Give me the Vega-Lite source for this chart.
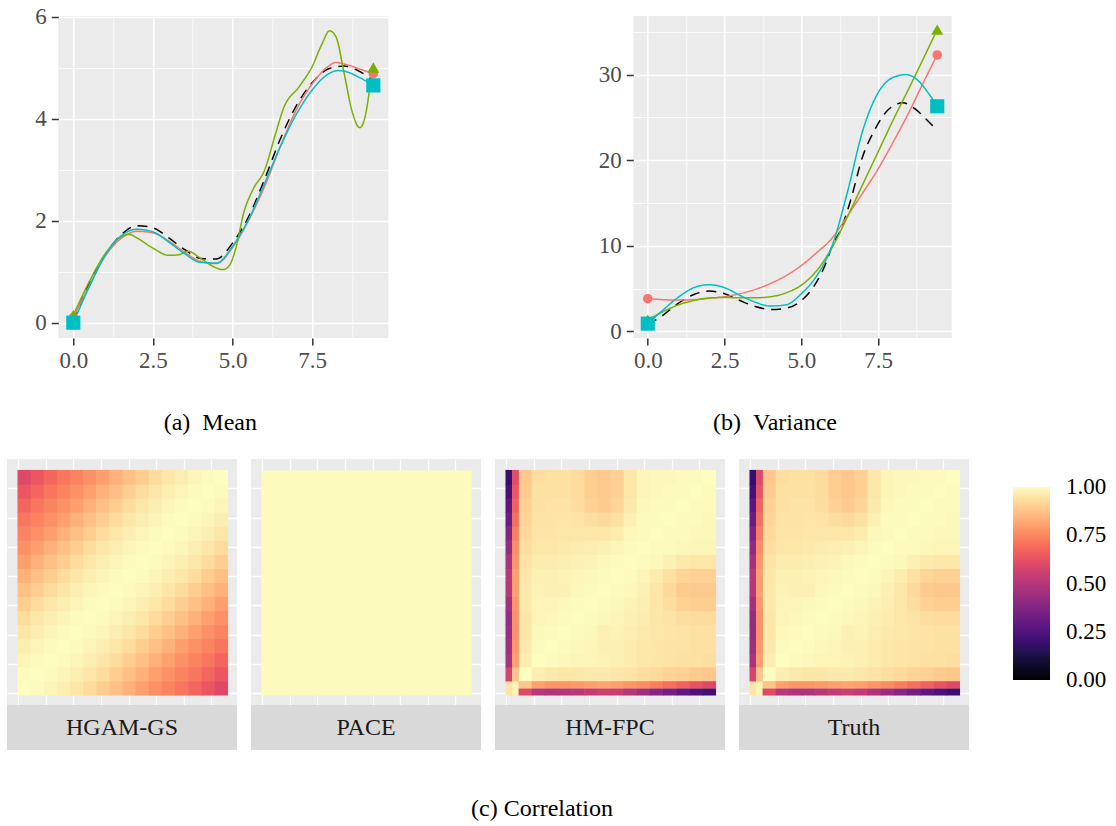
{
"$schema":"https://vega.github.io/schema/vega-lite/v6.json",
"background":"white",
"padding":{"left":7,"top":5,"right":0,"bottom":0},
"config":{"font":"Liberation Serif","view":{"stroke":null},
"mark":{"font":"Liberation Serif"},"text":{"font":"Liberation Serif"},
"axis":{"labelFont":"Liberation Serif","labelFontSize":23,"labelColor":"#4D4D4D","tickColor":"#333333","tickSize":7,"tickWidth":1.5,"domain":false,"gridColor":"#FFFFFF","titleFontSize":1},
"title":{"font":"Liberation Serif","fontSize":24,"fontWeight":"normal","color":"#000000"}},
"datasets":{
"mean":[
{"m":"Truth","x":0,"y":0.02},{"m":"Truth","x":0.5,"y":0.78},{"m":"Truth","x":1,"y":1.33},{"m":"Truth","x":1.5,"y":1.72},{"m":"Truth","x":2,"y":1.9},{"m":"Truth","x":2.5,"y":1.86},{"m":"Truth","x":3,"y":1.66},{"m":"Truth","x":3.5,"y":1.43},{"m":"Truth","x":4,"y":1.26},{"m":"Truth","x":4.5,"y":1.25},{"m":"Truth","x":5,"y":1.56},{"m":"Truth","x":5.5,"y":2.07},{"m":"Truth","x":6,"y":2.8},{"m":"Truth","x":6.5,"y":3.6},{"m":"Truth","x":7,"y":4.25},{"m":"Truth","x":7.5,"y":4.7},{"m":"Truth","x":8,"y":4.97},{"m":"Truth","x":8.5,"y":5.03},{"m":"Truth","x":9,"y":4.92},{"m":"Truth","x":9.42,"y":4.74},
{"m":"HGAM-GS","x":0,"y":0.1},{"m":"HGAM-GS","x":0.5,"y":0.72},{"m":"HGAM-GS","x":1,"y":1.3},{"m":"HGAM-GS","x":1.5,"y":1.65},{"m":"HGAM-GS","x":2,"y":1.79},{"m":"HGAM-GS","x":2.5,"y":1.76},{"m":"HGAM-GS","x":3,"y":1.6},{"m":"HGAM-GS","x":3.5,"y":1.38},{"m":"HGAM-GS","x":4,"y":1.2},{"m":"HGAM-GS","x":4.5,"y":1.16},{"m":"HGAM-GS","x":5,"y":1.47},{"m":"HGAM-GS","x":5.5,"y":2.0},{"m":"HGAM-GS","x":6,"y":2.66},{"m":"HGAM-GS","x":6.5,"y":3.45},{"m":"HGAM-GS","x":7,"y":4.17},{"m":"HGAM-GS","x":7.5,"y":4.68},{"m":"HGAM-GS","x":8,"y":5.02},{"m":"HGAM-GS","x":8.25,"y":5.1},{"m":"HGAM-GS","x":8.5,"y":5.07},{"m":"HGAM-GS","x":9,"y":4.97},{"m":"HGAM-GS","x":9.42,"y":4.88},
{"m":"PACE","x":0,"y":0.15},{"m":"PACE","x":0.5,"y":0.8},{"m":"PACE","x":1,"y":1.35},{"m":"PACE","x":1.5,"y":1.68},{"m":"PACE","x":1.75,"y":1.73},{"m":"PACE","x":2,"y":1.66},{"m":"PACE","x":2.5,"y":1.46},{"m":"PACE","x":3,"y":1.32},{"m":"PACE","x":3.3,"y":1.33},{"m":"PACE","x":3.6,"y":1.4},{"m":"PACE","x":4,"y":1.26},{"m":"PACE","x":4.4,"y":1.1},{"m":"PACE","x":4.7,"y":1.04},{"m":"PACE","x":4.9,"y":1.12},{"m":"PACE","x":5.1,"y":1.45},{"m":"PACE","x":5.35,"y":2.15},{"m":"PACE","x":5.65,"y":2.62},{"m":"PACE","x":6,"y":2.98},{"m":"PACE","x":6.35,"y":3.7},{"m":"PACE","x":6.6,"y":4.2},{"m":"PACE","x":7.1,"y":4.63},{"m":"PACE","x":7.5,"y":5.02},{"m":"PACE","x":7.8,"y":5.45},{"m":"PACE","x":8.05,"y":5.72},{"m":"PACE","x":8.25,"y":5.6},{"m":"PACE","x":8.5,"y":4.9},{"m":"PACE","x":8.75,"y":4.15},{"m":"PACE","x":9,"y":3.82},{"m":"PACE","x":9.2,"y":4.15},{"m":"PACE","x":9.3,"y":4.55},{"m":"PACE","x":9.42,"y":5.0},
{"m":"HM-FPC","x":0,"y":0},{"m":"HM-FPC","x":0.5,"y":0.7},{"m":"HM-FPC","x":1,"y":1.32},{"m":"HM-FPC","x":1.5,"y":1.7},{"m":"HM-FPC","x":2,"y":1.83},{"m":"HM-FPC","x":2.5,"y":1.78},{"m":"HM-FPC","x":3,"y":1.58},{"m":"HM-FPC","x":3.5,"y":1.35},{"m":"HM-FPC","x":4,"y":1.18},{"m":"HM-FPC","x":4.5,"y":1.17},{"m":"HM-FPC","x":5,"y":1.5},{"m":"HM-FPC","x":5.5,"y":2.02},{"m":"HM-FPC","x":6,"y":2.72},{"m":"HM-FPC","x":6.5,"y":3.45},{"m":"HM-FPC","x":7,"y":4.08},{"m":"HM-FPC","x":7.5,"y":4.56},{"m":"HM-FPC","x":8,"y":4.87},{"m":"HM-FPC","x":8.3,"y":4.94},{"m":"HM-FPC","x":8.5,"y":4.93},{"m":"HM-FPC","x":9,"y":4.8},{"m":"HM-FPC","x":9.42,"y":4.65}
],
"var":[
{"m":"Truth","x":0,"y":0.8},{"m":"Truth","x":0.5,"y":1.9},{"m":"Truth","x":1,"y":3.3},{"m":"Truth","x":1.5,"y":4.3},{"m":"Truth","x":2,"y":4.7},{"m":"Truth","x":2.5,"y":4.4},{"m":"Truth","x":3,"y":3.6},{"m":"Truth","x":3.5,"y":2.9},{"m":"Truth","x":4,"y":2.55},{"m":"Truth","x":4.5,"y":2.7},{"m":"Truth","x":5,"y":3.6},{"m":"Truth","x":5.5,"y":5.8},{"m":"Truth","x":5.8,"y":8.0},{"m":"Truth","x":6,"y":10.0},{"m":"Truth","x":6.27,"y":11.8},{"m":"Truth","x":6.6,"y":15.3},{"m":"Truth","x":7,"y":20.5},{"m":"Truth","x":7.35,"y":23.3},{"m":"Truth","x":7.8,"y":25.8},{"m":"Truth","x":8.3,"y":26.7},{"m":"Truth","x":8.7,"y":26.0},{"m":"Truth","x":9,"y":25.0},{"m":"Truth","x":9.42,"y":23.5},
{"m":"HGAM-GS","x":0,"y":3.82},{"m":"HGAM-GS","x":0.5,"y":3.7},{"m":"HGAM-GS","x":1,"y":3.65},{"m":"HGAM-GS","x":1.5,"y":3.7},{"m":"HGAM-GS","x":2,"y":3.85},{"m":"HGAM-GS","x":2.5,"y":4.05},{"m":"HGAM-GS","x":3,"y":4.4},{"m":"HGAM-GS","x":3.5,"y":4.9},{"m":"HGAM-GS","x":4,"y":5.6},{"m":"HGAM-GS","x":4.5,"y":6.5},{"m":"HGAM-GS","x":5,"y":7.7},{"m":"HGAM-GS","x":5.5,"y":9.2},{"m":"HGAM-GS","x":6,"y":10.9},{"m":"HGAM-GS","x":6.5,"y":13.5},{"m":"HGAM-GS","x":7,"y":16.2},{"m":"HGAM-GS","x":7.5,"y":19.0},{"m":"HGAM-GS","x":8,"y":22.2},{"m":"HGAM-GS","x":8.5,"y":25.6},{"m":"HGAM-GS","x":9,"y":29.3},{"m":"HGAM-GS","x":9.42,"y":32.3},
{"m":"PACE","x":0,"y":1.36},{"m":"PACE","x":0.5,"y":2.3},{"m":"PACE","x":1,"y":3.1},{"m":"PACE","x":1.5,"y":3.6},{"m":"PACE","x":2,"y":3.9},{"m":"PACE","x":2.5,"y":3.95},{"m":"PACE","x":3,"y":3.92},{"m":"PACE","x":3.5,"y":3.92},{"m":"PACE","x":4,"y":4.05},{"m":"PACE","x":4.5,"y":4.5},{"m":"PACE","x":5,"y":5.4},{"m":"PACE","x":5.5,"y":7.1},{"m":"PACE","x":6,"y":9.8},{"m":"PACE","x":6.5,"y":13.4},{"m":"PACE","x":7,"y":17.2},{"m":"PACE","x":7.5,"y":21.0},{"m":"PACE","x":8,"y":24.8},{"m":"PACE","x":8.5,"y":28.4},{"m":"PACE","x":9,"y":32.1},{"m":"PACE","x":9.42,"y":35.26},
{"m":"HM-FPC","x":0,"y":0.9},{"m":"HM-FPC","x":0.5,"y":2.5},{"m":"HM-FPC","x":1,"y":4.0},{"m":"HM-FPC","x":1.5,"y":5.1},{"m":"HM-FPC","x":2,"y":5.45},{"m":"HM-FPC","x":2.5,"y":5.1},{"m":"HM-FPC","x":3,"y":4.2},{"m":"HM-FPC","x":3.5,"y":3.4},{"m":"HM-FPC","x":4,"y":2.95},{"m":"HM-FPC","x":4.5,"y":3.1},{"m":"HM-FPC","x":5,"y":4.4},{"m":"HM-FPC","x":5.5,"y":6.5},{"m":"HM-FPC","x":6,"y":10.0},{"m":"HM-FPC","x":6.5,"y":16.3},{"m":"HM-FPC","x":7,"y":23.5},{"m":"HM-FPC","x":7.5,"y":27.9},{"m":"HM-FPC","x":8,"y":29.7},{"m":"HM-FPC","x":8.4,"y":30.0},{"m":"HM-FPC","x":8.8,"y":29.3},{"m":"HM-FPC","x":9.1,"y":28.0},{"m":"HM-FPC","x":9.42,"y":26.3}
],
"pace":[{"s":0,"t":0,"v":0.995}],
"hg":[
{"s":0,"t":0,"v":1},{"s":1,"t":0,"v":0.995},{"s":2,"t":0,"v":0.985},{"s":3,"t":0,"v":0.97},{"s":4,"t":0,"v":0.955},{"s":5,"t":0,"v":0.93},{"s":6,"t":0,"v":0.9},{"s":7,"t":0,"v":0.87},{"s":8,"t":0,"v":0.84},{"s":9,"t":0,"v":0.8},{"s":10,"t":0,"v":0.77},{"s":11,"t":0,"v":0.745},{"s":12,"t":0,"v":0.715},{"s":13,"t":0,"v":0.68},{"s":14,"t":0,"v":0.64},{"s":15,"t":0,"v":0.6},
{"s":0,"t":1,"v":0.995},{"s":1,"t":1,"v":1},{"s":2,"t":1,"v":0.995},{"s":3,"t":1,"v":0.985},{"s":4,"t":1,"v":0.97},{"s":5,"t":1,"v":0.955},{"s":6,"t":1,"v":0.93},{"s":7,"t":1,"v":0.9},{"s":8,"t":1,"v":0.87},{"s":9,"t":1,"v":0.84},{"s":10,"t":1,"v":0.8},{"s":11,"t":1,"v":0.77},{"s":12,"t":1,"v":0.745},{"s":13,"t":1,"v":0.715},{"s":14,"t":1,"v":0.68},{"s":15,"t":1,"v":0.64},
{"s":0,"t":2,"v":0.985},{"s":1,"t":2,"v":0.995},{"s":2,"t":2,"v":1},{"s":3,"t":2,"v":0.995},{"s":4,"t":2,"v":0.985},{"s":5,"t":2,"v":0.97},{"s":6,"t":2,"v":0.955},{"s":7,"t":2,"v":0.93},{"s":8,"t":2,"v":0.9},{"s":9,"t":2,"v":0.87},{"s":10,"t":2,"v":0.84},{"s":11,"t":2,"v":0.8},{"s":12,"t":2,"v":0.77},{"s":13,"t":2,"v":0.745},{"s":14,"t":2,"v":0.715},{"s":15,"t":2,"v":0.68},
{"s":0,"t":3,"v":0.97},{"s":1,"t":3,"v":0.985},{"s":2,"t":3,"v":0.995},{"s":3,"t":3,"v":1},{"s":4,"t":3,"v":0.995},{"s":5,"t":3,"v":0.985},{"s":6,"t":3,"v":0.97},{"s":7,"t":3,"v":0.955},{"s":8,"t":3,"v":0.93},{"s":9,"t":3,"v":0.9},{"s":10,"t":3,"v":0.87},{"s":11,"t":3,"v":0.84},{"s":12,"t":3,"v":0.8},{"s":13,"t":3,"v":0.77},{"s":14,"t":3,"v":0.745},{"s":15,"t":3,"v":0.715},
{"s":0,"t":4,"v":0.955},{"s":1,"t":4,"v":0.97},{"s":2,"t":4,"v":0.985},{"s":3,"t":4,"v":0.995},{"s":4,"t":4,"v":1},{"s":5,"t":4,"v":0.995},{"s":6,"t":4,"v":0.985},{"s":7,"t":4,"v":0.97},{"s":8,"t":4,"v":0.955},{"s":9,"t":4,"v":0.93},{"s":10,"t":4,"v":0.9},{"s":11,"t":4,"v":0.87},{"s":12,"t":4,"v":0.84},{"s":13,"t":4,"v":0.8},{"s":14,"t":4,"v":0.77},{"s":15,"t":4,"v":0.745},
{"s":0,"t":5,"v":0.93},{"s":1,"t":5,"v":0.955},{"s":2,"t":5,"v":0.97},{"s":3,"t":5,"v":0.985},{"s":4,"t":5,"v":0.995},{"s":5,"t":5,"v":1},{"s":6,"t":5,"v":0.995},{"s":7,"t":5,"v":0.985},{"s":8,"t":5,"v":0.97},{"s":9,"t":5,"v":0.955},{"s":10,"t":5,"v":0.93},{"s":11,"t":5,"v":0.9},{"s":12,"t":5,"v":0.87},{"s":13,"t":5,"v":0.84},{"s":14,"t":5,"v":0.8},{"s":15,"t":5,"v":0.77},
{"s":0,"t":6,"v":0.9},{"s":1,"t":6,"v":0.93},{"s":2,"t":6,"v":0.955},{"s":3,"t":6,"v":0.97},{"s":4,"t":6,"v":0.985},{"s":5,"t":6,"v":0.995},{"s":6,"t":6,"v":1},{"s":7,"t":6,"v":0.995},{"s":8,"t":6,"v":0.985},{"s":9,"t":6,"v":0.97},{"s":10,"t":6,"v":0.955},{"s":11,"t":6,"v":0.93},{"s":12,"t":6,"v":0.9},{"s":13,"t":6,"v":0.87},{"s":14,"t":6,"v":0.84},{"s":15,"t":6,"v":0.8},
{"s":0,"t":7,"v":0.87},{"s":1,"t":7,"v":0.9},{"s":2,"t":7,"v":0.93},{"s":3,"t":7,"v":0.955},{"s":4,"t":7,"v":0.97},{"s":5,"t":7,"v":0.985},{"s":6,"t":7,"v":0.995},{"s":7,"t":7,"v":1},{"s":8,"t":7,"v":0.995},{"s":9,"t":7,"v":0.985},{"s":10,"t":7,"v":0.97},{"s":11,"t":7,"v":0.955},{"s":12,"t":7,"v":0.93},{"s":13,"t":7,"v":0.9},{"s":14,"t":7,"v":0.87},{"s":15,"t":7,"v":0.84},
{"s":0,"t":8,"v":0.84},{"s":1,"t":8,"v":0.87},{"s":2,"t":8,"v":0.9},{"s":3,"t":8,"v":0.93},{"s":4,"t":8,"v":0.955},{"s":5,"t":8,"v":0.97},{"s":6,"t":8,"v":0.985},{"s":7,"t":8,"v":0.995},{"s":8,"t":8,"v":1},{"s":9,"t":8,"v":0.995},{"s":10,"t":8,"v":0.985},{"s":11,"t":8,"v":0.97},{"s":12,"t":8,"v":0.955},{"s":13,"t":8,"v":0.93},{"s":14,"t":8,"v":0.9},{"s":15,"t":8,"v":0.87},
{"s":0,"t":9,"v":0.8},{"s":1,"t":9,"v":0.84},{"s":2,"t":9,"v":0.87},{"s":3,"t":9,"v":0.9},{"s":4,"t":9,"v":0.93},{"s":5,"t":9,"v":0.955},{"s":6,"t":9,"v":0.97},{"s":7,"t":9,"v":0.985},{"s":8,"t":9,"v":0.995},{"s":9,"t":9,"v":1},{"s":10,"t":9,"v":0.995},{"s":11,"t":9,"v":0.985},{"s":12,"t":9,"v":0.97},{"s":13,"t":9,"v":0.955},{"s":14,"t":9,"v":0.93},{"s":15,"t":9,"v":0.9},
{"s":0,"t":10,"v":0.77},{"s":1,"t":10,"v":0.8},{"s":2,"t":10,"v":0.84},{"s":3,"t":10,"v":0.87},{"s":4,"t":10,"v":0.9},{"s":5,"t":10,"v":0.93},{"s":6,"t":10,"v":0.955},{"s":7,"t":10,"v":0.97},{"s":8,"t":10,"v":0.985},{"s":9,"t":10,"v":0.995},{"s":10,"t":10,"v":1},{"s":11,"t":10,"v":0.995},{"s":12,"t":10,"v":0.985},{"s":13,"t":10,"v":0.97},{"s":14,"t":10,"v":0.955},{"s":15,"t":10,"v":0.93},
{"s":0,"t":11,"v":0.745},{"s":1,"t":11,"v":0.77},{"s":2,"t":11,"v":0.8},{"s":3,"t":11,"v":0.84},{"s":4,"t":11,"v":0.87},{"s":5,"t":11,"v":0.9},{"s":6,"t":11,"v":0.93},{"s":7,"t":11,"v":0.955},{"s":8,"t":11,"v":0.97},{"s":9,"t":11,"v":0.985},{"s":10,"t":11,"v":0.995},{"s":11,"t":11,"v":1},{"s":12,"t":11,"v":0.995},{"s":13,"t":11,"v":0.985},{"s":14,"t":11,"v":0.97},{"s":15,"t":11,"v":0.955},
{"s":0,"t":12,"v":0.715},{"s":1,"t":12,"v":0.745},{"s":2,"t":12,"v":0.77},{"s":3,"t":12,"v":0.8},{"s":4,"t":12,"v":0.84},{"s":5,"t":12,"v":0.87},{"s":6,"t":12,"v":0.9},{"s":7,"t":12,"v":0.93},{"s":8,"t":12,"v":0.955},{"s":9,"t":12,"v":0.97},{"s":10,"t":12,"v":0.985},{"s":11,"t":12,"v":0.995},{"s":12,"t":12,"v":1},{"s":13,"t":12,"v":0.995},{"s":14,"t":12,"v":0.985},{"s":15,"t":12,"v":0.97},
{"s":0,"t":13,"v":0.68},{"s":1,"t":13,"v":0.715},{"s":2,"t":13,"v":0.745},{"s":3,"t":13,"v":0.77},{"s":4,"t":13,"v":0.8},{"s":5,"t":13,"v":0.84},{"s":6,"t":13,"v":0.87},{"s":7,"t":13,"v":0.9},{"s":8,"t":13,"v":0.93},{"s":9,"t":13,"v":0.955},{"s":10,"t":13,"v":0.97},{"s":11,"t":13,"v":0.985},{"s":12,"t":13,"v":0.995},{"s":13,"t":13,"v":1},{"s":14,"t":13,"v":0.995},{"s":15,"t":13,"v":0.985},
{"s":0,"t":14,"v":0.64},{"s":1,"t":14,"v":0.68},{"s":2,"t":14,"v":0.715},{"s":3,"t":14,"v":0.745},{"s":4,"t":14,"v":0.77},{"s":5,"t":14,"v":0.8},{"s":6,"t":14,"v":0.84},{"s":7,"t":14,"v":0.87},{"s":8,"t":14,"v":0.9},{"s":9,"t":14,"v":0.93},{"s":10,"t":14,"v":0.955},{"s":11,"t":14,"v":0.97},{"s":12,"t":14,"v":0.985},{"s":13,"t":14,"v":0.995},{"s":14,"t":14,"v":1},{"s":15,"t":14,"v":0.995},
{"s":0,"t":15,"v":0.6},{"s":1,"t":15,"v":0.64},{"s":2,"t":15,"v":0.68},{"s":3,"t":15,"v":0.715},{"s":4,"t":15,"v":0.745},{"s":5,"t":15,"v":0.77},{"s":6,"t":15,"v":0.8},{"s":7,"t":15,"v":0.84},{"s":8,"t":15,"v":0.87},{"s":9,"t":15,"v":0.9},{"s":10,"t":15,"v":0.93},{"s":11,"t":15,"v":0.955},{"s":12,"t":15,"v":0.97},{"s":13,"t":15,"v":0.985},{"s":14,"t":15,"v":0.995},{"s":15,"t":15,"v":1}
],
"tr":[
{"s":1,"t":1,"v":1},{"s":2,"t":1,"v":0.97},{"s":3,"t":1,"v":0.96},{"s":4,"t":1,"v":0.955},{"s":5,"t":1,"v":0.955},{"s":6,"t":1,"v":0.96},{"s":7,"t":1,"v":0.96},{"s":8,"t":1,"v":0.955},{"s":9,"t":1,"v":0.945},{"s":10,"t":1,"v":0.935},{"s":11,"t":1,"v":0.925},{"s":12,"t":1,"v":0.915},{"s":13,"t":1,"v":0.905},{"s":14,"t":1,"v":0.895},{"s":15,"t":1,"v":0.885},
{"s":1,"t":2,"v":0.97},{"s":2,"t":2,"v":1},{"s":3,"t":2,"v":0.995},{"s":4,"t":2,"v":0.99},{"s":5,"t":2,"v":0.985},{"s":6,"t":2,"v":0.985},{"s":7,"t":2,"v":0.98},{"s":8,"t":2,"v":0.975},{"s":9,"t":2,"v":0.965},{"s":10,"t":2,"v":0.955},{"s":11,"t":2,"v":0.95},{"s":12,"t":2,"v":0.945},{"s":13,"t":2,"v":0.94},{"s":14,"t":2,"v":0.94},{"s":15,"t":2,"v":0.935},
{"s":1,"t":3,"v":0.96},{"s":2,"t":3,"v":0.995},{"s":3,"t":3,"v":1},{"s":4,"t":3,"v":0.995},{"s":5,"t":3,"v":0.99},{"s":6,"t":3,"v":0.985},{"s":7,"t":3,"v":0.975},{"s":8,"t":3,"v":0.975},{"s":9,"t":3,"v":0.965},{"s":10,"t":3,"v":0.955},{"s":11,"t":3,"v":0.95},{"s":12,"t":3,"v":0.945},{"s":13,"t":3,"v":0.945},{"s":14,"t":3,"v":0.94},{"s":15,"t":3,"v":0.94},
{"s":1,"t":4,"v":0.955},{"s":2,"t":4,"v":0.99},{"s":3,"t":4,"v":0.995},{"s":4,"t":4,"v":1},{"s":5,"t":4,"v":0.995},{"s":6,"t":4,"v":0.99},{"s":7,"t":4,"v":0.975},{"s":8,"t":4,"v":0.98},{"s":9,"t":4,"v":0.97},{"s":10,"t":4,"v":0.96},{"s":11,"t":4,"v":0.955},{"s":12,"t":4,"v":0.95},{"s":13,"t":4,"v":0.945},{"s":14,"t":4,"v":0.94},{"s":15,"t":4,"v":0.94},
{"s":1,"t":5,"v":0.955},{"s":2,"t":5,"v":0.985},{"s":3,"t":5,"v":0.99},{"s":4,"t":5,"v":0.995},{"s":5,"t":5,"v":1},{"s":6,"t":5,"v":0.995},{"s":7,"t":5,"v":0.99},{"s":8,"t":5,"v":0.985},{"s":9,"t":5,"v":0.975},{"s":10,"t":5,"v":0.965},{"s":11,"t":5,"v":0.955},{"s":12,"t":5,"v":0.945},{"s":13,"t":5,"v":0.935},{"s":14,"t":5,"v":0.93},{"s":15,"t":5,"v":0.93},
{"s":1,"t":6,"v":0.96},{"s":2,"t":6,"v":0.985},{"s":3,"t":6,"v":0.985},{"s":4,"t":6,"v":0.99},{"s":5,"t":6,"v":0.995},{"s":6,"t":6,"v":1},{"s":7,"t":6,"v":0.995},{"s":8,"t":6,"v":0.99},{"s":9,"t":6,"v":0.98},{"s":10,"t":6,"v":0.97},{"s":11,"t":6,"v":0.955},{"s":12,"t":6,"v":0.935},{"s":13,"t":6,"v":0.91},{"s":14,"t":6,"v":0.9},{"s":15,"t":6,"v":0.9},
{"s":1,"t":7,"v":0.96},{"s":2,"t":7,"v":0.98},{"s":3,"t":7,"v":0.975},{"s":4,"t":7,"v":0.975},{"s":5,"t":7,"v":0.99},{"s":6,"t":7,"v":0.995},{"s":7,"t":7,"v":1},{"s":8,"t":7,"v":0.995},{"s":9,"t":7,"v":0.99},{"s":10,"t":7,"v":0.975},{"s":11,"t":7,"v":0.955},{"s":12,"t":7,"v":0.925},{"s":13,"t":7,"v":0.895},{"s":14,"t":7,"v":0.885},{"s":15,"t":7,"v":0.885},
{"s":1,"t":8,"v":0.955},{"s":2,"t":8,"v":0.975},{"s":3,"t":8,"v":0.975},{"s":4,"t":8,"v":0.98},{"s":5,"t":8,"v":0.985},{"s":6,"t":8,"v":0.99},{"s":7,"t":8,"v":0.995},{"s":8,"t":8,"v":1},{"s":9,"t":8,"v":0.995},{"s":10,"t":8,"v":0.985},{"s":11,"t":8,"v":0.965},{"s":12,"t":8,"v":0.94},{"s":13,"t":8,"v":0.915},{"s":14,"t":8,"v":0.905},{"s":15,"t":8,"v":0.905},
{"s":1,"t":9,"v":0.945},{"s":2,"t":9,"v":0.965},{"s":3,"t":9,"v":0.965},{"s":4,"t":9,"v":0.97},{"s":5,"t":9,"v":0.975},{"s":6,"t":9,"v":0.98},{"s":7,"t":9,"v":0.99},{"s":8,"t":9,"v":0.995},{"s":9,"t":9,"v":1},{"s":10,"t":9,"v":0.995},{"s":11,"t":9,"v":0.99},{"s":12,"t":9,"v":0.975},{"s":13,"t":9,"v":0.96},{"s":14,"t":9,"v":0.955},{"s":15,"t":9,"v":0.955},
{"s":1,"t":10,"v":0.935},{"s":2,"t":10,"v":0.955},{"s":3,"t":10,"v":0.955},{"s":4,"t":10,"v":0.96},{"s":5,"t":10,"v":0.965},{"s":6,"t":10,"v":0.97},{"s":7,"t":10,"v":0.975},{"s":8,"t":10,"v":0.985},{"s":9,"t":10,"v":0.995},{"s":10,"t":10,"v":1},{"s":11,"t":10,"v":0.995},{"s":12,"t":10,"v":0.995},{"s":13,"t":10,"v":0.99},{"s":14,"t":10,"v":0.985},{"s":15,"t":10,"v":0.985},
{"s":1,"t":11,"v":0.925},{"s":2,"t":11,"v":0.95},{"s":3,"t":11,"v":0.95},{"s":4,"t":11,"v":0.955},{"s":5,"t":11,"v":0.955},{"s":6,"t":11,"v":0.955},{"s":7,"t":11,"v":0.955},{"s":8,"t":11,"v":0.965},{"s":9,"t":11,"v":0.99},{"s":10,"t":11,"v":0.995},{"s":11,"t":11,"v":1},{"s":12,"t":11,"v":0.995},{"s":13,"t":11,"v":0.995},{"s":14,"t":11,"v":0.99},{"s":15,"t":11,"v":0.99},
{"s":1,"t":12,"v":0.915},{"s":2,"t":12,"v":0.945},{"s":3,"t":12,"v":0.945},{"s":4,"t":12,"v":0.95},{"s":5,"t":12,"v":0.945},{"s":6,"t":12,"v":0.935},{"s":7,"t":12,"v":0.925},{"s":8,"t":12,"v":0.94},{"s":9,"t":12,"v":0.975},{"s":10,"t":12,"v":0.995},{"s":11,"t":12,"v":0.995},{"s":12,"t":12,"v":1},{"s":13,"t":12,"v":0.995},{"s":14,"t":12,"v":0.995},{"s":15,"t":12,"v":0.99},
{"s":1,"t":13,"v":0.905},{"s":2,"t":13,"v":0.94},{"s":3,"t":13,"v":0.945},{"s":4,"t":13,"v":0.945},{"s":5,"t":13,"v":0.935},{"s":6,"t":13,"v":0.91},{"s":7,"t":13,"v":0.895},{"s":8,"t":13,"v":0.915},{"s":9,"t":13,"v":0.96},{"s":10,"t":13,"v":0.99},{"s":11,"t":13,"v":0.995},{"s":12,"t":13,"v":0.995},{"s":13,"t":13,"v":1},{"s":14,"t":13,"v":0.995},{"s":15,"t":13,"v":0.995},
{"s":1,"t":14,"v":0.895},{"s":2,"t":14,"v":0.94},{"s":3,"t":14,"v":0.94},{"s":4,"t":14,"v":0.94},{"s":5,"t":14,"v":0.93},{"s":6,"t":14,"v":0.9},{"s":7,"t":14,"v":0.885},{"s":8,"t":14,"v":0.905},{"s":9,"t":14,"v":0.955},{"s":10,"t":14,"v":0.985},{"s":11,"t":14,"v":0.99},{"s":12,"t":14,"v":0.995},{"s":13,"t":14,"v":0.995},{"s":14,"t":14,"v":1},{"s":15,"t":14,"v":0.995},
{"s":1,"t":15,"v":0.885},{"s":2,"t":15,"v":0.935},{"s":3,"t":15,"v":0.94},{"s":4,"t":15,"v":0.94},{"s":5,"t":15,"v":0.93},{"s":6,"t":15,"v":0.9},{"s":7,"t":15,"v":0.885},{"s":8,"t":15,"v":0.905},{"s":9,"t":15,"v":0.955},{"s":10,"t":15,"v":0.985},{"s":11,"t":15,"v":0.99},{"s":12,"t":15,"v":0.99},{"s":13,"t":15,"v":0.995},{"s":14,"t":15,"v":0.995},{"s":15,"t":15,"v":1}
],
"trl":[
{"s":0,"t":0,"v":0.95},{"s":0,"t":1,"v":0.58},{"s":0,"t":2,"v":0.47},{"s":0,"t":3,"v":0.44},{"s":0,"t":4,"v":0.42},{"s":0,"t":5,"v":0.42},{"s":0,"t":6,"v":0.45},{"s":0,"t":7,"v":0.5},{"s":0,"t":8,"v":0.5},{"s":0,"t":9,"v":0.46},{"s":0,"t":10,"v":0.41},{"s":0,"t":11,"v":0.36},{"s":0,"t":12,"v":0.31},{"s":0,"t":13,"v":0.27},{"s":0,"t":14,"v":0.22},{"s":0,"t":15,"v":0.18},
{"s":0.5,"t":0,"v":0.98},{"s":0.5,"t":1,"v":0.88},{"s":0.5,"t":2,"v":0.8},{"s":0.5,"t":3,"v":0.78},{"s":0.5,"t":4,"v":0.77},{"s":0.5,"t":5,"v":0.77},{"s":0.5,"t":6,"v":0.78},{"s":0.5,"t":7,"v":0.8},{"s":0.5,"t":8,"v":0.8},{"s":0.5,"t":9,"v":0.78},{"s":0.5,"t":10,"v":0.76},{"s":0.5,"t":11,"v":0.73},{"s":0.5,"t":12,"v":0.7},{"s":0.5,"t":13,"v":0.67},{"s":0.5,"t":14,"v":0.63},{"s":0.5,"t":15,"v":0.6}
],
"trb":[
{"s":1,"t":0,"v":0.6},{"s":2,"t":0,"v":0.5},{"s":3,"t":0,"v":0.48},{"s":4,"t":0,"v":0.48},{"s":5,"t":0,"v":0.5},{"s":6,"t":0,"v":0.53},{"s":7,"t":0,"v":0.55},{"s":8,"t":0,"v":0.53},{"s":9,"t":0,"v":0.48},{"s":10,"t":0,"v":0.43},{"s":11,"t":0,"v":0.38},{"s":12,"t":0,"v":0.33},{"s":13,"t":0,"v":0.28},{"s":14,"t":0,"v":0.24},{"s":15,"t":0,"v":0.2},
{"s":1,"t":0.5,"v":0.88},{"s":2,"t":0.5,"v":0.8},{"s":3,"t":0.5,"v":0.78},{"s":4,"t":0.5,"v":0.78},{"s":5,"t":0.5,"v":0.79},{"s":6,"t":0.5,"v":0.8},{"s":7,"t":0.5,"v":0.81},{"s":8,"t":0.5,"v":0.8},{"s":9,"t":0.5,"v":0.78},{"s":10,"t":0.5,"v":0.76},{"s":11,"t":0.5,"v":0.73},{"s":12,"t":0.5,"v":0.7},{"s":13,"t":0.5,"v":0.67},{"s":14,"t":0.5,"v":0.63},{"s":15,"t":0.5,"v":0.6}
],
"hm":[
{"s":1,"t":1,"v":1},{"s":2,"t":1,"v":0.97},{"s":3,"t":1,"v":0.96},{"s":4,"t":1,"v":0.955},{"s":5,"t":1,"v":0.955},{"s":6,"t":1,"v":0.96},{"s":7,"t":1,"v":0.96},{"s":8,"t":1,"v":0.955},{"s":9,"t":1,"v":0.945},{"s":10,"t":1,"v":0.935},{"s":11,"t":1,"v":0.925},{"s":12,"t":1,"v":0.915},{"s":13,"t":1,"v":0.905},{"s":14,"t":1,"v":0.895},{"s":15,"t":1,"v":0.885},
{"s":1,"t":2,"v":0.97},{"s":2,"t":2,"v":1},{"s":3,"t":2,"v":0.995},{"s":4,"t":2,"v":0.99},{"s":5,"t":2,"v":0.985},{"s":6,"t":2,"v":0.985},{"s":7,"t":2,"v":0.98},{"s":8,"t":2,"v":0.975},{"s":9,"t":2,"v":0.965},{"s":10,"t":2,"v":0.955},{"s":11,"t":2,"v":0.95},{"s":12,"t":2,"v":0.945},{"s":13,"t":2,"v":0.94},{"s":14,"t":2,"v":0.94},{"s":15,"t":2,"v":0.935},
{"s":1,"t":3,"v":0.96},{"s":2,"t":3,"v":0.995},{"s":3,"t":3,"v":1},{"s":4,"t":3,"v":0.995},{"s":5,"t":3,"v":0.99},{"s":6,"t":3,"v":0.985},{"s":7,"t":3,"v":0.975},{"s":8,"t":3,"v":0.975},{"s":9,"t":3,"v":0.965},{"s":10,"t":3,"v":0.955},{"s":11,"t":3,"v":0.95},{"s":12,"t":3,"v":0.945},{"s":13,"t":3,"v":0.945},{"s":14,"t":3,"v":0.94},{"s":15,"t":3,"v":0.94},
{"s":1,"t":4,"v":0.955},{"s":2,"t":4,"v":0.99},{"s":3,"t":4,"v":0.995},{"s":4,"t":4,"v":1},{"s":5,"t":4,"v":0.995},{"s":6,"t":4,"v":0.99},{"s":7,"t":4,"v":0.975},{"s":8,"t":4,"v":0.98},{"s":9,"t":4,"v":0.97},{"s":10,"t":4,"v":0.96},{"s":11,"t":4,"v":0.955},{"s":12,"t":4,"v":0.95},{"s":13,"t":4,"v":0.945},{"s":14,"t":4,"v":0.94},{"s":15,"t":4,"v":0.94},
{"s":1,"t":5,"v":0.955},{"s":2,"t":5,"v":0.985},{"s":3,"t":5,"v":0.99},{"s":4,"t":5,"v":0.995},{"s":5,"t":5,"v":1},{"s":6,"t":5,"v":0.995},{"s":7,"t":5,"v":0.99},{"s":8,"t":5,"v":0.985},{"s":9,"t":5,"v":0.975},{"s":10,"t":5,"v":0.965},{"s":11,"t":5,"v":0.955},{"s":12,"t":5,"v":0.945},{"s":13,"t":5,"v":0.935},{"s":14,"t":5,"v":0.93},{"s":15,"t":5,"v":0.93},
{"s":1,"t":6,"v":0.96},{"s":2,"t":6,"v":0.985},{"s":3,"t":6,"v":0.985},{"s":4,"t":6,"v":0.99},{"s":5,"t":6,"v":0.995},{"s":6,"t":6,"v":1},{"s":7,"t":6,"v":0.995},{"s":8,"t":6,"v":0.99},{"s":9,"t":6,"v":0.98},{"s":10,"t":6,"v":0.97},{"s":11,"t":6,"v":0.955},{"s":12,"t":6,"v":0.935},{"s":13,"t":6,"v":0.91},{"s":14,"t":6,"v":0.9},{"s":15,"t":6,"v":0.9},
{"s":1,"t":7,"v":0.96},{"s":2,"t":7,"v":0.98},{"s":3,"t":7,"v":0.975},{"s":4,"t":7,"v":0.975},{"s":5,"t":7,"v":0.99},{"s":6,"t":7,"v":0.995},{"s":7,"t":7,"v":1},{"s":8,"t":7,"v":0.995},{"s":9,"t":7,"v":0.99},{"s":10,"t":7,"v":0.975},{"s":11,"t":7,"v":0.955},{"s":12,"t":7,"v":0.925},{"s":13,"t":7,"v":0.895},{"s":14,"t":7,"v":0.89},{"s":15,"t":7,"v":0.89},
{"s":1,"t":8,"v":0.955},{"s":2,"t":8,"v":0.975},{"s":3,"t":8,"v":0.975},{"s":4,"t":8,"v":0.98},{"s":5,"t":8,"v":0.985},{"s":6,"t":8,"v":0.99},{"s":7,"t":8,"v":0.995},{"s":8,"t":8,"v":1},{"s":9,"t":8,"v":0.995},{"s":10,"t":8,"v":0.985},{"s":11,"t":8,"v":0.965},{"s":12,"t":8,"v":0.94},{"s":13,"t":8,"v":0.915},{"s":14,"t":8,"v":0.905},{"s":15,"t":8,"v":0.905},
{"s":1,"t":9,"v":0.945},{"s":2,"t":9,"v":0.965},{"s":3,"t":9,"v":0.965},{"s":4,"t":9,"v":0.97},{"s":5,"t":9,"v":0.975},{"s":6,"t":9,"v":0.98},{"s":7,"t":9,"v":0.99},{"s":8,"t":9,"v":0.995},{"s":9,"t":9,"v":1},{"s":10,"t":9,"v":0.995},{"s":11,"t":9,"v":0.99},{"s":12,"t":9,"v":0.975},{"s":13,"t":9,"v":0.96},{"s":14,"t":9,"v":0.955},{"s":15,"t":9,"v":0.955},
{"s":1,"t":10,"v":0.935},{"s":2,"t":10,"v":0.955},{"s":3,"t":10,"v":0.955},{"s":4,"t":10,"v":0.96},{"s":5,"t":10,"v":0.965},{"s":6,"t":10,"v":0.97},{"s":7,"t":10,"v":0.975},{"s":8,"t":10,"v":0.985},{"s":9,"t":10,"v":0.995},{"s":10,"t":10,"v":1},{"s":11,"t":10,"v":0.995},{"s":12,"t":10,"v":0.995},{"s":13,"t":10,"v":0.99},{"s":14,"t":10,"v":0.985},{"s":15,"t":10,"v":0.985},
{"s":1,"t":11,"v":0.925},{"s":2,"t":11,"v":0.95},{"s":3,"t":11,"v":0.95},{"s":4,"t":11,"v":0.955},{"s":5,"t":11,"v":0.955},{"s":6,"t":11,"v":0.955},{"s":7,"t":11,"v":0.955},{"s":8,"t":11,"v":0.965},{"s":9,"t":11,"v":0.99},{"s":10,"t":11,"v":0.995},{"s":11,"t":11,"v":1},{"s":12,"t":11,"v":0.995},{"s":13,"t":11,"v":0.995},{"s":14,"t":11,"v":0.99},{"s":15,"t":11,"v":0.99},
{"s":1,"t":12,"v":0.915},{"s":2,"t":12,"v":0.945},{"s":3,"t":12,"v":0.945},{"s":4,"t":12,"v":0.95},{"s":5,"t":12,"v":0.945},{"s":6,"t":12,"v":0.935},{"s":7,"t":12,"v":0.925},{"s":8,"t":12,"v":0.94},{"s":9,"t":12,"v":0.975},{"s":10,"t":12,"v":0.995},{"s":11,"t":12,"v":0.995},{"s":12,"t":12,"v":1},{"s":13,"t":12,"v":0.995},{"s":14,"t":12,"v":0.995},{"s":15,"t":12,"v":0.99},
{"s":1,"t":13,"v":0.905},{"s":2,"t":13,"v":0.94},{"s":3,"t":13,"v":0.945},{"s":4,"t":13,"v":0.945},{"s":5,"t":13,"v":0.935},{"s":6,"t":13,"v":0.91},{"s":7,"t":13,"v":0.895},{"s":8,"t":13,"v":0.915},{"s":9,"t":13,"v":0.96},{"s":10,"t":13,"v":0.99},{"s":11,"t":13,"v":0.995},{"s":12,"t":13,"v":0.995},{"s":13,"t":13,"v":1},{"s":14,"t":13,"v":0.995},{"s":15,"t":13,"v":0.995},
{"s":1,"t":14,"v":0.895},{"s":2,"t":14,"v":0.94},{"s":3,"t":14,"v":0.94},{"s":4,"t":14,"v":0.94},{"s":5,"t":14,"v":0.93},{"s":6,"t":14,"v":0.9},{"s":7,"t":14,"v":0.89},{"s":8,"t":14,"v":0.905},{"s":9,"t":14,"v":0.955},{"s":10,"t":14,"v":0.985},{"s":11,"t":14,"v":0.99},{"s":12,"t":14,"v":0.995},{"s":13,"t":14,"v":0.995},{"s":14,"t":14,"v":1},{"s":15,"t":14,"v":0.995},
{"s":1,"t":15,"v":0.885},{"s":2,"t":15,"v":0.935},{"s":3,"t":15,"v":0.94},{"s":4,"t":15,"v":0.94},{"s":5,"t":15,"v":0.93},{"s":6,"t":15,"v":0.9},{"s":7,"t":15,"v":0.89},{"s":8,"t":15,"v":0.905},{"s":9,"t":15,"v":0.955},{"s":10,"t":15,"v":0.985},{"s":11,"t":15,"v":0.99},{"s":12,"t":15,"v":0.99},{"s":13,"t":15,"v":0.995},{"s":14,"t":15,"v":0.995},{"s":15,"t":15,"v":1}
],
"hml":[
{"s":0,"t":0,"v":0.95},{"s":0,"t":1,"v":0.57},{"s":0,"t":2,"v":0.47},{"s":0,"t":3,"v":0.45},{"s":0,"t":4,"v":0.43},{"s":0,"t":5,"v":0.42},{"s":0,"t":6,"v":0.45},{"s":0,"t":7,"v":0.5},{"s":0,"t":8,"v":0.51},{"s":0,"t":9,"v":0.47},{"s":0,"t":10,"v":0.42},{"s":0,"t":11,"v":0.37},{"s":0,"t":12,"v":0.32},{"s":0,"t":13,"v":0.28},{"s":0,"t":14,"v":0.23},{"s":0,"t":15,"v":0.19},
{"s":0.5,"t":0,"v":0.98},{"s":0.5,"t":1,"v":0.88},{"s":0.5,"t":2,"v":0.8},{"s":0.5,"t":3,"v":0.78},{"s":0.5,"t":4,"v":0.77},{"s":0.5,"t":5,"v":0.77},{"s":0.5,"t":6,"v":0.78},{"s":0.5,"t":7,"v":0.8},{"s":0.5,"t":8,"v":0.8},{"s":0.5,"t":9,"v":0.78},{"s":0.5,"t":10,"v":0.76},{"s":0.5,"t":11,"v":0.73},{"s":0.5,"t":12,"v":0.7},{"s":0.5,"t":13,"v":0.67},{"s":0.5,"t":14,"v":0.64},{"s":0.5,"t":15,"v":0.61}
],
"hmb":[
{"s":1,"t":0,"v":0.6},{"s":2,"t":0,"v":0.5},{"s":3,"t":0,"v":0.48},{"s":4,"t":0,"v":0.49},{"s":5,"t":0,"v":0.5},{"s":6,"t":0,"v":0.53},{"s":7,"t":0,"v":0.55},{"s":8,"t":0,"v":0.54},{"s":9,"t":0,"v":0.49},{"s":10,"t":0,"v":0.44},{"s":11,"t":0,"v":0.38},{"s":12,"t":0,"v":0.33},{"s":13,"t":0,"v":0.28},{"s":14,"t":0,"v":0.24},{"s":15,"t":0,"v":0.21},
{"s":1,"t":0.5,"v":0.88},{"s":2,"t":0.5,"v":0.8},{"s":3,"t":0.5,"v":0.78},{"s":4,"t":0.5,"v":0.78},{"s":5,"t":0.5,"v":0.79},{"s":6,"t":0.5,"v":0.8},{"s":7,"t":0.5,"v":0.81},{"s":8,"t":0.5,"v":0.8},{"s":9,"t":0.5,"v":0.78},{"s":10,"t":0.5,"v":0.76},{"s":11,"t":0.5,"v":0.73},{"s":12,"t":0.5,"v":0.7},{"s":13,"t":0.5,"v":0.67},{"s":14,"t":0.5,"v":0.63},{"s":15,"t":0.5,"v":0.6}
]
},
"spacing":24,
"resolve":{"scale":{"color":"independent","shape":"independent","strokeDash":"independent","size":"independent"},"legend":{"color":"independent","shape":"independent","strokeDash":"independent","size":"independent"}},
"vconcat":[
{"hconcat":[
{"width":1,"height":10,"data":{"values":[{"k":1}]},"mark":{"type":"point","opacity":0,"size":0},"encoding":{}},
{"hconcat":[
{"width":330,"height":322,"view":{"fill":"#EBEBEB","stroke":null},"data":{"name":"mean"},
"title":{"text":"(a)\u00a0\u00a0Mean","orient":"bottom","anchor":"middle","frame":"group","dx":-13,"offset":39},
"encoding":{
"x":{"field":"x","type":"quantitative","scale":{"domain":[-0.471,9.891],"nice":false,"zero":false},
"axis":{"title":null,"values":[0,1.25,2.5,3.75,5,6.25,7.5,8.75],"labelExpr":"datum.value % 2.5 === 0 ? format(datum.value, '.1f') : ''","labelPadding":4,"tickOpacity":{"condition":{"test":"datum.value % 2.5 !== 0","value":0},"value":1},"gridWidth":{"condition":{"test":"datum.value % 2.5 !== 0","value":0.8},"value":1.6}}},
"y":{"field":"y","type":"quantitative","scale":{"domain":[-0.3,6.01],"nice":false,"zero":false},
"axis":{"title":null,"values":[0,1,2,3,4,5,6],"labelExpr":"datum.value % 2 === 0 ? format(datum.value, 'd') : ''","labelPadding":5,"tickOpacity":{"condition":{"test":"datum.value % 2 !== 0","value":0},"value":1},"gridWidth":{"condition":{"test":"datum.value % 2 !== 0","value":0.8},"value":1.6}}},
"color":{"field":"m","type":"nominal","scale":{"domain":["HGAM-GS","PACE","HM-FPC","Truth"],"range":["#F8766D","#7CAE00","#00BFC4","#000000"]},"legend":null}},
"layer":[
{"mark":{"type":"line","interpolate":"monotone","strokeWidth":1.5},"encoding":{"strokeDash":{"field":"m","type":"nominal","scale":{"domain":["HGAM-GS","PACE","HM-FPC","Truth"],"range":[[1,0],[1,0],[1,0],[10,7]]},"legend":null}}},
{"transform":[{"filter":"datum.m !== 'Truth' && (datum.x === 0 || datum.x === 9.42)"}],"mark":{"type":"point","filled":true,"opacity":1},"encoding":{"shape":{"field":"m","type":"nominal","scale":{"domain":["HGAM-GS","PACE","HM-FPC"],"range":["circle","triangle-up","square"]},"legend":null},"size":{"field":"m","type":"nominal","scale":{"domain":["HGAM-GS","PACE","HM-FPC"],"range":[90,200,100]},"legend":null}}}
]},
{"width":318.4,"height":322,"view":{"fill":"#EBEBEB","stroke":null},"data":{"name":"var"},
"title":{"text":"(b)\u00a0\u00a0Variance","orient":"bottom","anchor":"middle","frame":"group","dx":-17.5,"offset":39},
"encoding":{
"x":{"field":"x","type":"quantitative","scale":{"domain":[-0.471,9.891],"nice":false,"zero":false},
"axis":{"title":null,"values":[0,1.25,2.5,3.75,5,6.25,7.5,8.75],"labelExpr":"datum.value % 2.5 === 0 ? format(datum.value, '.1f') : ''","labelPadding":4,"tickOpacity":{"condition":{"test":"datum.value % 2.5 !== 0","value":0},"value":1},"gridWidth":{"condition":{"test":"datum.value % 2.5 !== 0","value":0.8},"value":1.6}}},
"y":{"field":"y","type":"quantitative","scale":{"domain":[-0.78,36.85],"nice":false,"zero":false},
"axis":{"title":null,"values":[0,5,10,15,20,25,30,35],"labelExpr":"datum.value % 10 === 0 ? format(datum.value, 'd') : ''","labelPadding":5,"tickOpacity":{"condition":{"test":"datum.value % 10 !== 0","value":0},"value":1},"gridWidth":{"condition":{"test":"datum.value % 10 !== 0","value":0.8},"value":1.6}}},
"color":{"field":"m","type":"nominal","scale":{"domain":["HGAM-GS","PACE","HM-FPC","Truth"],"range":["#F8766D","#7CAE00","#00BFC4","#000000"]},"legend":null}},
"layer":[
{"mark":{"type":"line","interpolate":"monotone","strokeWidth":1.5},"encoding":{"strokeDash":{"field":"m","type":"nominal","scale":{"domain":["HGAM-GS","PACE","HM-FPC","Truth"],"range":[[1,0],[1,0],[1,0],[10,7]]},"legend":null}}},
{"transform":[{"filter":"datum.m !== 'Truth' && (datum.x === 0 || datum.x === 9.42)"}],"mark":{"type":"point","filled":true,"opacity":1},"encoding":{"shape":{"field":"m","type":"nominal","scale":{"domain":["HGAM-GS","PACE","HM-FPC"],"range":["circle","triangle-up","square"]},"legend":null},"size":{"field":"m","type":"nominal","scale":{"domain":["HGAM-GS","PACE","HM-FPC"],"range":[90,200,100]},"legend":null}}}
]}
],"spacing":245,"bounds":"flush"}
],"spacing":50.3,"bounds":"flush"},
{"hconcat":[
{"vconcat":[
{"width":230,"height":246,"view":{"fill":"#EBEBEB","stroke":null},"data":{"name":"hg"},"mark":{"type":"rect","binSpacing":0},
"encoding":{
"x":{"field":"s","type":"quantitative","bin":{"binned":true,"step":1.04},"scale":{"domain":[-0.76,16.76],"nice":false,"zero":false},"axis":{"title":null,"grid":true,"zindex":0,"labels":false,"ticks":false,"domain":false,"minExtent":0,"maxExtent":0,"values":[0.1,2.2,4.3,6.4,8.5,10.6,12.7,14.8],"gridWidth":1.3}},
"y":{"field":"t","type":"quantitative","bin":{"binned":true,"step":1.04},"scale":{"domain":[-0.71,16.78],"nice":false,"zero":false},"axis":{"title":null,"grid":true,"zindex":0,"labels":false,"ticks":false,"domain":false,"minExtent":0,"maxExtent":0,"values":[0.14,2.22,4.3,6.38,8.46,10.54,12.62,14.7],"gridWidth":1.3}},
"color":{"field":"v","type":"quantitative","scale":{"scheme":"magma","domain":[-0.001,1.001]},"legend":{"orient":"none","legendX":1006,"legendY":28,"title":null,"gradientLength":193,"gradientThickness":37,"values":[0,0.25,0.5,0.75,1],"format":".2f","labelFontSize":23,"labelFont":"Liberation Serif","labelColor":"#000000","labelOffset":16,"labelBaseline":"middle","gradientStrokeWidth":0,"padding":0}}}},
{"width":230,"height":45,"view":{"fill":"#D9D9D9","stroke":null},"data":{"values":[{"l":"HGAM-GS"}]},"mark":{"type":"text","font":"Liberation Serif","fontSize":24,"color":"#1A1A1A","baseline":"middle","align":"center"},"encoding":{"text":{"field":"l"}}}
],"spacing":0},
{"vconcat":[
{"width":230,"height":246,"view":{"fill":"#EBEBEB","stroke":null},"data":{"name":"pace"},"mark":{"type":"rect","binSpacing":0},
"encoding":{
"x":{"field":"s","type":"quantitative","bin":{"binned":true,"step":16},"scale":{"domain":[-0.76,16.76],"nice":false,"zero":false},"axis":{"title":null,"grid":true,"zindex":0,"labels":false,"ticks":false,"domain":false,"minExtent":0,"maxExtent":0,"values":[0.1,2.2,4.3,6.4,8.5,10.6,12.7,14.8],"gridWidth":1.3}},
"y":{"field":"t","type":"quantitative","bin":{"binned":true,"step":16},"scale":{"domain":[-0.71,16.78],"nice":false,"zero":false},"axis":{"title":null,"grid":true,"zindex":0,"labels":false,"ticks":false,"domain":false,"minExtent":0,"maxExtent":0,"values":[0.14,2.22,4.3,6.38,8.46,10.54,12.62,14.7],"gridWidth":1.3}},
"color":{"field":"v","type":"quantitative","scale":{"scheme":"magma","domain":[-0.001,1.001]},"legend":{"orient":"none","legendX":1006,"legendY":28,"title":null,"gradientLength":193,"gradientThickness":37,"values":[0,0.25,0.5,0.75,1],"format":".2f","labelFontSize":23,"labelFont":"Liberation Serif","labelColor":"#000000","labelOffset":16,"labelBaseline":"middle","gradientStrokeWidth":0,"padding":0}}}},
{"width":230,"height":45,"view":{"fill":"#D9D9D9","stroke":null},"data":{"values":[{"l":"PACE"}]},"mark":{"type":"text","font":"Liberation Serif","fontSize":24,"color":"#1A1A1A","baseline":"middle","align":"center"},"encoding":{"text":{"field":"l"}}}
],"spacing":0},
{"vconcat":[
{"width":230,"height":246,"view":{"fill":"#EBEBEB","stroke":null},
"encoding":{"color":{"field":"v","type":"quantitative","scale":{"scheme":"magma","domain":[-0.001,1.001]},"legend":{"orient":"none","legendX":1006,"legendY":28,"title":null,"gradientLength":193,"gradientThickness":37,"values":[0,0.25,0.5,0.75,1],"format":".2f","labelFontSize":23,"labelFont":"Liberation Serif","labelColor":"#000000","labelOffset":16,"labelBaseline":"middle","gradientStrokeWidth":0,"padding":0}}},
"layer":[
{"data":{"name":"hm"},"mark":{"type":"rect","binSpacing":0},"encoding":{
"x":{"field":"s","type":"quantitative","bin":{"binned":true,"step":1.04},"scale":{"domain":[-0.76,16.76],"nice":false,"zero":false},"axis":{"title":null,"grid":true,"zindex":0,"labels":false,"ticks":false,"domain":false,"minExtent":0,"maxExtent":0,"values":[0.1,2.2,4.3,6.4,8.5,10.6,12.7,14.8],"gridWidth":1.3}},
"y":{"field":"t","type":"quantitative","bin":{"binned":true,"step":1.04},"scale":{"domain":[-0.71,16.78],"nice":false,"zero":false},"axis":{"title":null,"grid":true,"zindex":0,"labels":false,"ticks":false,"domain":false,"minExtent":0,"maxExtent":0,"values":[0.14,2.22,4.3,6.38,8.46,10.54,12.62,14.7],"gridWidth":1.3}}}},
{"data":{"name":"hml"},"mark":{"type":"rect","binSpacing":0},"encoding":{
"x":{"field":"s","type":"quantitative","bin":{"binned":true,"step":0.52},"scale":{"domain":[-0.76,16.76],"nice":false,"zero":false},"axis":{"title":null,"grid":true,"zindex":0,"labels":false,"ticks":false,"domain":false,"minExtent":0,"maxExtent":0,"values":[0.1,2.2,4.3,6.4,8.5,10.6,12.7,14.8],"gridWidth":1.3}},
"y":{"field":"t","type":"quantitative","bin":{"binned":true,"step":1.04},"scale":{"domain":[-0.71,16.78],"nice":false,"zero":false},"axis":{"title":null,"grid":true,"zindex":0,"labels":false,"ticks":false,"domain":false,"minExtent":0,"maxExtent":0,"values":[0.14,2.22,4.3,6.38,8.46,10.54,12.62,14.7],"gridWidth":1.3}}}},
{"data":{"name":"hmb"},"mark":{"type":"rect","binSpacing":0},"encoding":{
"x":{"field":"s","type":"quantitative","bin":{"binned":true,"step":1.04},"scale":{"domain":[-0.76,16.76],"nice":false,"zero":false},"axis":{"title":null,"grid":true,"zindex":0,"labels":false,"ticks":false,"domain":false,"minExtent":0,"maxExtent":0,"values":[0.1,2.2,4.3,6.4,8.5,10.6,12.7,14.8],"gridWidth":1.3}},
"y":{"field":"t","type":"quantitative","bin":{"binned":true,"step":0.52},"scale":{"domain":[-0.71,16.78],"nice":false,"zero":false},"axis":{"title":null,"grid":true,"zindex":0,"labels":false,"ticks":false,"domain":false,"minExtent":0,"maxExtent":0,"values":[0.14,2.22,4.3,6.38,8.46,10.54,12.62,14.7],"gridWidth":1.3}}}}
]},
{"width":230,"height":45,"view":{"fill":"#D9D9D9","stroke":null},"data":{"values":[{"l":"HM-FPC"}]},"mark":{"type":"text","font":"Liberation Serif","fontSize":24,"color":"#1A1A1A","baseline":"middle","align":"center"},"encoding":{"text":{"field":"l"}}}
],"spacing":0},
{"vconcat":[
{"width":230,"height":246,"view":{"fill":"#EBEBEB","stroke":null},
"encoding":{"color":{"field":"v","type":"quantitative","scale":{"scheme":"magma","domain":[-0.001,1.001]},"legend":{"orient":"none","legendX":1006,"legendY":28,"title":null,"gradientLength":193,"gradientThickness":37,"values":[0,0.25,0.5,0.75,1],"format":".2f","labelFontSize":23,"labelFont":"Liberation Serif","labelColor":"#000000","labelOffset":16,"labelBaseline":"middle","gradientStrokeWidth":0,"padding":0}}},
"layer":[
{"data":{"name":"tr"},"mark":{"type":"rect","binSpacing":0},"encoding":{
"x":{"field":"s","type":"quantitative","bin":{"binned":true,"step":1.04},"scale":{"domain":[-0.76,16.76],"nice":false,"zero":false},"axis":{"title":null,"grid":true,"zindex":0,"labels":false,"ticks":false,"domain":false,"minExtent":0,"maxExtent":0,"values":[0.1,2.2,4.3,6.4,8.5,10.6,12.7,14.8],"gridWidth":1.3}},
"y":{"field":"t","type":"quantitative","bin":{"binned":true,"step":1.04},"scale":{"domain":[-0.71,16.78],"nice":false,"zero":false},"axis":{"title":null,"grid":true,"zindex":0,"labels":false,"ticks":false,"domain":false,"minExtent":0,"maxExtent":0,"values":[0.14,2.22,4.3,6.38,8.46,10.54,12.62,14.7],"gridWidth":1.3}}}},
{"data":{"name":"trl"},"mark":{"type":"rect","binSpacing":0},"encoding":{
"x":{"field":"s","type":"quantitative","bin":{"binned":true,"step":0.52},"scale":{"domain":[-0.76,16.76],"nice":false,"zero":false},"axis":{"title":null,"grid":true,"zindex":0,"labels":false,"ticks":false,"domain":false,"minExtent":0,"maxExtent":0,"values":[0.1,2.2,4.3,6.4,8.5,10.6,12.7,14.8],"gridWidth":1.3}},
"y":{"field":"t","type":"quantitative","bin":{"binned":true,"step":1.04},"scale":{"domain":[-0.71,16.78],"nice":false,"zero":false},"axis":{"title":null,"grid":true,"zindex":0,"labels":false,"ticks":false,"domain":false,"minExtent":0,"maxExtent":0,"values":[0.14,2.22,4.3,6.38,8.46,10.54,12.62,14.7],"gridWidth":1.3}}}},
{"data":{"name":"trb"},"mark":{"type":"rect","binSpacing":0},"encoding":{
"x":{"field":"s","type":"quantitative","bin":{"binned":true,"step":1.04},"scale":{"domain":[-0.76,16.76],"nice":false,"zero":false},"axis":{"title":null,"grid":true,"zindex":0,"labels":false,"ticks":false,"domain":false,"minExtent":0,"maxExtent":0,"values":[0.1,2.2,4.3,6.4,8.5,10.6,12.7,14.8],"gridWidth":1.3}},
"y":{"field":"t","type":"quantitative","bin":{"binned":true,"step":0.52},"scale":{"domain":[-0.71,16.78],"nice":false,"zero":false},"axis":{"title":null,"grid":true,"zindex":0,"labels":false,"ticks":false,"domain":false,"minExtent":0,"maxExtent":0,"values":[0.14,2.22,4.3,6.38,8.46,10.54,12.62,14.7],"gridWidth":1.3}}}}
]},
{"width":230,"height":45,"view":{"fill":"#D9D9D9","stroke":null},"data":{"values":[{"l":"Truth"}]},"mark":{"type":"text","font":"Liberation Serif","fontSize":24,"color":"#1A1A1A","baseline":"middle","align":"center"},"encoding":{"text":{"field":"l"}}}
],"spacing":0}
],"spacing":14,
"title":{"text":"(c) Correlation","orient":"bottom","anchor":"start","dx":464,"offset":47}}
]
}
